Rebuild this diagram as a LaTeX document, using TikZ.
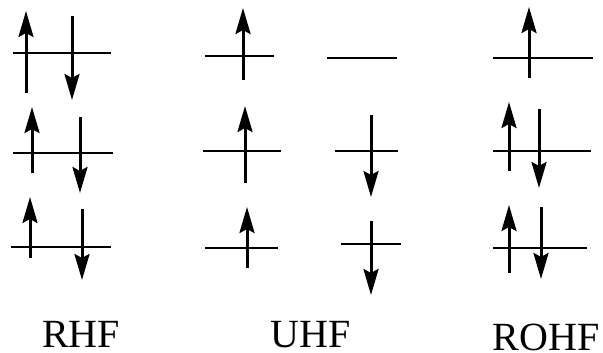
\documentclass[tikz,border=0pt]{standalone}
\usepackage{fontspec}
\setmainfont{Liberation Serif}
\usepackage{tikz}
\usetikzlibrary{arrows.meta}

\tikzset{
  level/.style={line width=2pt},
  spin/.style={line width=3pt,-{Stealth[length=26pt,width=15pt,inset=4pt]}},
  method/.style={anchor=base,inner sep=0pt,text depth=0pt,font=\fontsize{40}{40}\selectfont}
}

\begin{document}
\begin{tikzpicture}[x=1pt,y=-1pt]
\useasboundingbox (0,0) rectangle (603,353);

% RHF
\draw[level] (13,53) -- (111,53);
\draw[spin] (26,93) -- (26,11);
\draw[spin] (72,16) -- (72,100);
\draw[level] (13,153) -- (113,153);
\draw[spin] (32,173) -- (32,107);
\draw[spin] (80,117) -- (80,193);
\draw[level] (11,247) -- (111,247);
\draw[spin] (30,258) -- (30,197);
\draw[spin] (82,209) -- (82,280);

% UHF
\draw[level] (205,56) -- (274,56);
\draw[spin] (243,80) -- (243,8);
\draw[level] (327,58) -- (397,58);
\draw[level] (203,151) -- (281,151);
\draw[spin] (245,183) -- (245,106);
\draw[level] (335,151) -- (398,151);
\draw[spin] (371,115) -- (371,197);
\draw[level] (205,248) -- (278,248);
\draw[spin] (247,268) -- (247,207);
\draw[level] (341,244) -- (401,244);
\draw[spin] (371,221) -- (371,295);

% ROHF
\draw[level] (493,58) -- (593,58);
\draw[spin] (529,78) -- (529,7);
\draw[level] (493,151) -- (591,151);
\draw[spin] (509,171) -- (509,102);
\draw[spin] (539,109) -- (539,188);
\draw[level] (493,248) -- (587,248);
\draw[spin] (509,273) -- (509,205);
\draw[spin] (541,207) -- (541,279);

\node[method] (rhf) at (81,347) {RHF};
\node[method] (uhf) at (311,347) {UHF};
\node[method] (rohf) at (546,350) {ROHF};
\end{tikzpicture}
\end{document}
